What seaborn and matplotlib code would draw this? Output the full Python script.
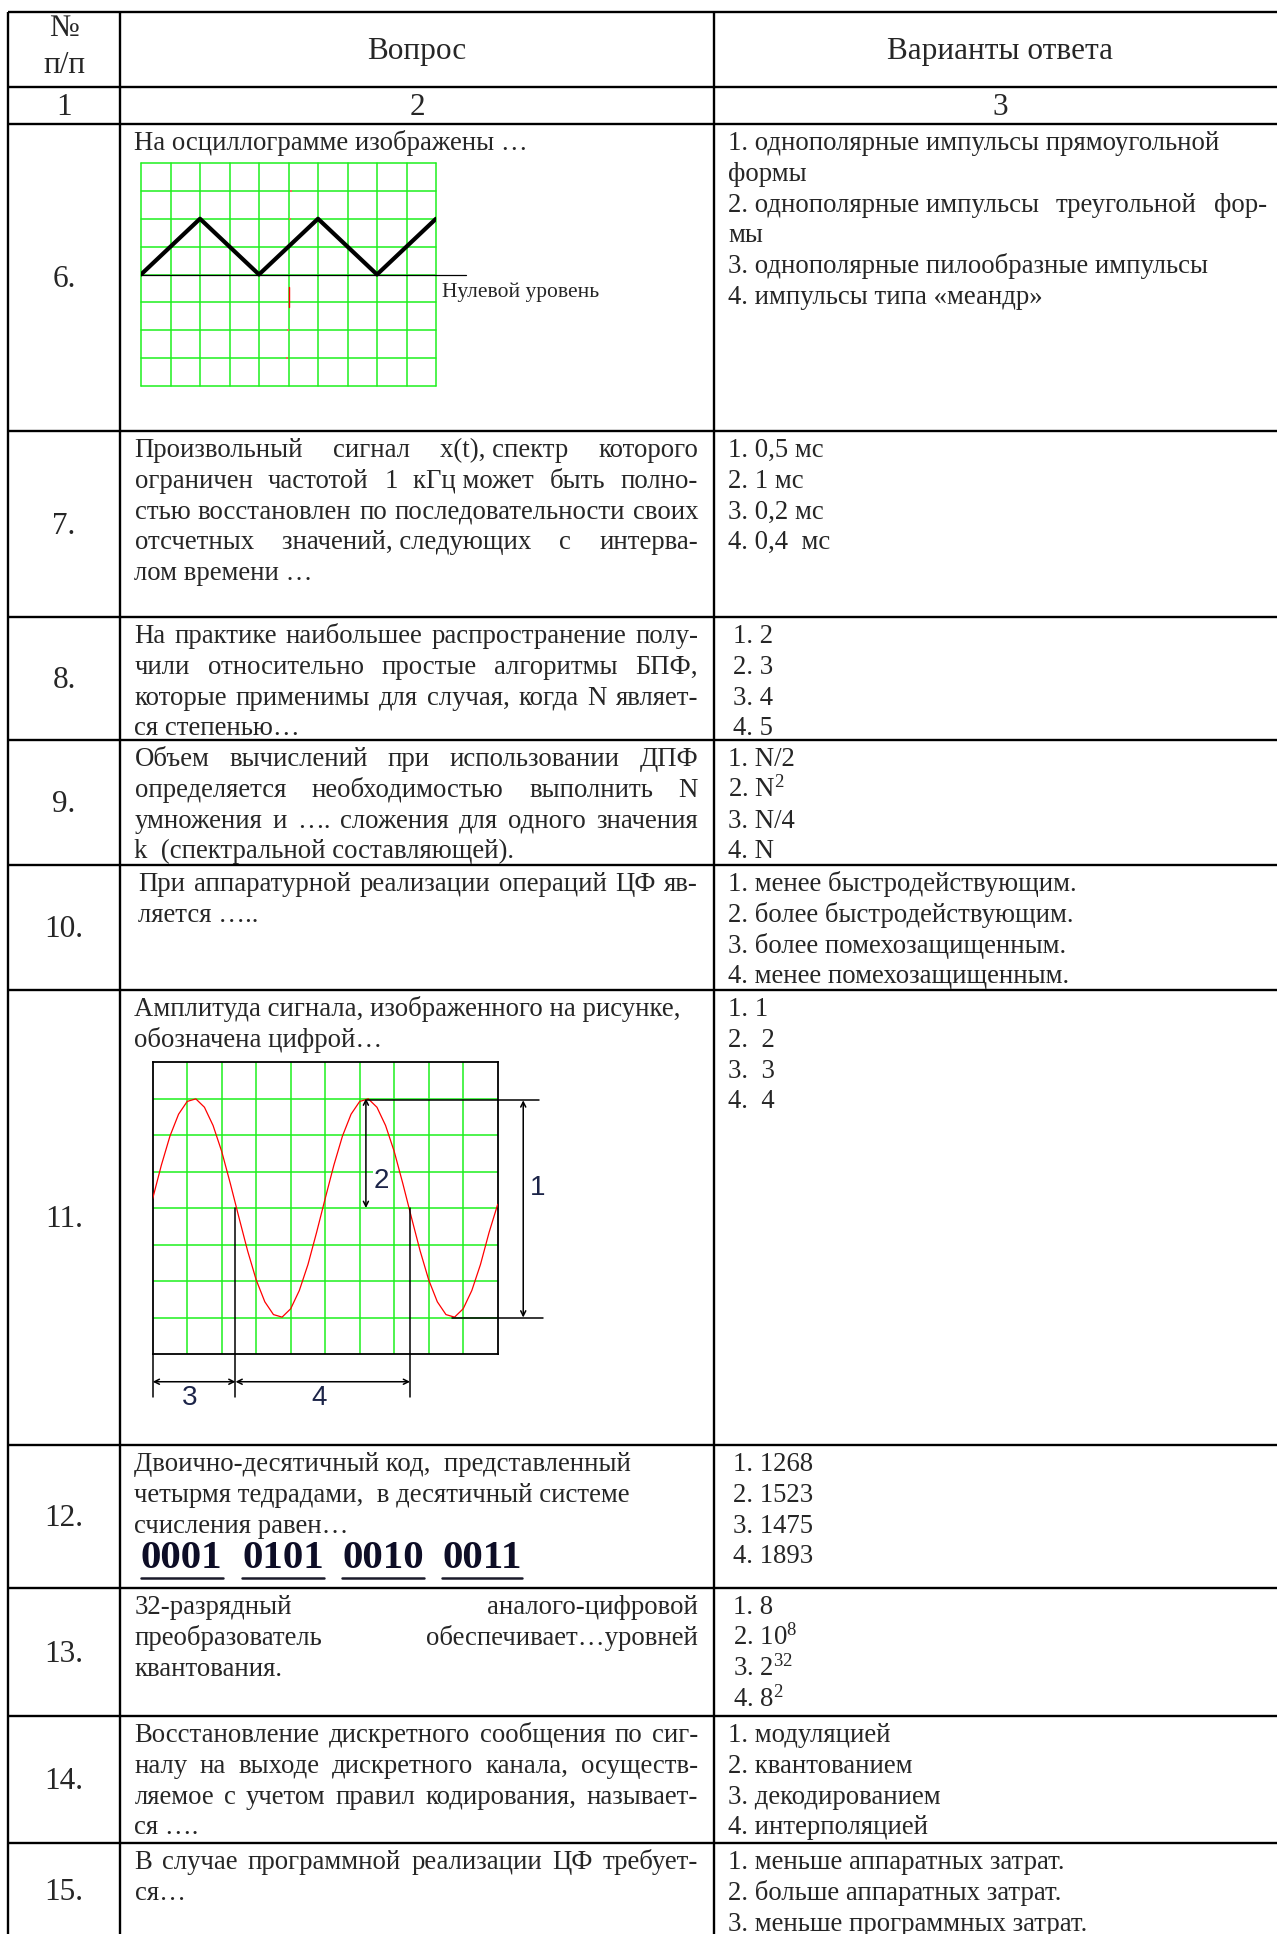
import matplotlib
matplotlib.use("Agg")
import matplotlib.pyplot as plt
import seaborn as sns

sns.set_style("white")
plt.rcParams['font.family'] = ['Liberation Serif', 'DejaVu Serif']
plt.rcParams['mathtext.fontset'] = 'custom'
plt.rcParams['mathtext.rm'] = 'Liberation Serif'
plt.rcParams['mathtext.it'] = 'Liberation Serif:italic'

NB = "\u00a0"  # fixed (non-stretching) space

# ---- table content ----
col_numbers = ["1", "2", "3"]
row_labels = ["6.", "7.", "8.", "9.", "10.", "11.", "12.", "13.", "14.", "15."]

questions = [
    ["На осциллограмме изображены …"],
    ["Произвольный сигнал x(t)," + NB + "спектр которого",
     "ограничен частотой 1 кГц" + NB + "может быть полно-",
     "стью восстановлен по последовательности своих",
     "отсчетных значений," + NB + "следующих с интерва-",
     "лом времени …"],
    ["На практике наибольшее распространение полу-",
     "чили относительно простые алгоритмы БПФ,",
     "которые применимы для случая, когда N являет-",
     "ся степенью…"],
    ["Объем вычислений при использовании ДПФ",
     "определяется необходимостью выполнить N",
     "умножения и …. сложения для одного значения",
     "k  (спектральной составляющей)."],
    ["При аппаратурной реализации операций ЦФ яв-",
     "ляется ….."],
    ["Амплитуда сигнала, изображенного на рисунке,",
     "обозначена цифрой…"],
    ["Двоично-десятичный код,  представленный",
     "четырмя тедрадами,  в десятичный системе",
     "счисления равен…"],
    ["32-разрядный аналого-цифровой",
     "преобразователь обеспечивает…уровней",
     "квантования."],
    ["Восстановление дискретного сообщения по сиг-",
     "налу на выходе дискретного канала, осуществ-",
     "ляемое с учетом правил кодирования, называет-",
     "ся …."],
    ["В случае программной реализации ЦФ требует-",
     "ся…"],
]
# how many leading lines of each question are justified
q_justified = [0, 4, 3, 3, 1, 0, 0, 2, 3, 1]

answers = [
    ["1. однополярные импульсы прямоугольной",
     "формы",
     "2." + NB + "однополярные" + NB + "импульсы  треугольной  фор-",
     "мы",
     "3. однополярные пилообразные импульсы",
     "4. импульсы типа «меандр»"],
    ["1. 0,5 мс", "2. 1 мс", "3. 0,2 мс", "4. 0,4  мс"],
    ["1. 2", "2. 3", "3. 4", "4. 5"],
    ["1. N/2", "2. N$^{2}$", "3. N/4", "4. N"],
    ["1. менее быстродействующим.", "2. более быстродействующим.",
     "3. более помехозащищенным.", "4. менее помехозащищенным."],
    ["1. 1", "2.  2", "3.  3", "4.  4"],
    ["1. 1268", "2. 1523", "3. 1475", "4. 1893"],
    ["1. 8", "2. 10$^{8}$", "3. 2$^{32}$", "4. 8$^{2}$"],
    ["1. модуляцией", "2. квантованием", "3. декодированием", "4. интерполяцией"],
    ["1. меньше аппаратных затрат.", "2. больше аппаратных затрат.",
     "3. меньше программных затрат."],
]
a_justified = {(0, 2)}

bcd_groups = ["0001", "0101", "0010", "0011"]
zero_label = "Нулевой уровень"

# triangle wave (grid units)
tri_x = [0, 2, 4, 6, 8, 10]
tri_y = [4, 6, 4, 6, 4, 6]
red_mark_x = [5.08, 5.06, 5.03, 4.99, 4.96]
red_mark_y = [7.0, 6.0, 5.0, 2.0, 1.0]

# sine wave (10 x 8 cells)
sine_x = [0, 0.25, 0.5, 0.75, 1, 1.25, 1.5, 1.75, 2, 2.25, 2.5, 2.75, 3, 3.25,
          3.5, 3.75, 4, 4.25, 4.5, 4.75, 5, 5.25, 5.5, 5.75, 6, 6.25, 6.5,
          6.75, 7, 7.25, 7.5, 7.75, 8, 8.25, 8.5, 8.75, 9, 9.25, 9.5, 9.75, 10]
sine_y = [4.26, 5.17, 5.97, 6.57, 6.92, 6.99, 6.76, 6.26, 5.55, 4.67, 3.74,
          2.83, 2.03, 1.43, 1.08, 1.01, 1.24, 1.74, 2.45, 3.33,
          4.26, 5.17, 5.97, 6.57, 6.92, 6.99, 6.76, 6.26, 5.55, 4.67, 3.74,
          2.83, 2.03, 1.43, 1.08, 1.01, 1.24, 1.74, 2.45, 3.33, 4.1]
sine_marks = ["1", "2", "3", "4"]

# ---- layout (pixels) ----
W, H = 1277, 1934
FS = 19.3
FS_HEAD = 22.5
x_left, x_c1, x_c2 = 8, 120, 714
h_lines = [12, 87, 124, 431, 617, 740, 865, 990, 1445, 1588, 1716, 1843]
row_tops = h_lines[2:]
row_bottoms = h_lines[3:] + [1937]
step = 30.8
q_x = [134.5, 134.5, 134.5, 134.5, 138, 134.5, 134.5, 134.5, 134.5, 134.5]
a_x = [728, 728, 733, 728, 728, 728, 733, 733, 728, 728]
q_right, a_right = 698, 1267

fig = plt.figure(figsize=(W / 100, H / 100), dpi=100)
ax = fig.add_axes([0, 0, 1, 1])
ax.set_xlim(0, W)
ax.set_ylim(H, 0)
ax.axis('off')
renderer = fig.canvas.get_renderer()

for y in h_lines:
    ax.plot([x_left, W], [y, y], color='black', lw=1.7, solid_capstyle='butt')
for x in (x_left, x_c1, x_c2):
    ax.plot([x, x], [h_lines[0], H], color='black', lw=1.7, solid_capstyle='butt')


def text_width(s, **kw):
    t = ax.text(0, 0, s, **kw)
    w = t.get_window_extent(renderer).width
    t.remove()
    return w


def draw_line(x0, y, s, x1=None, **kw):
    kw.setdefault('fontsize', FS)
    if x1 is None:
        ax.text(x0, y, s.replace(NB, " "), ha='left', va='baseline', **kw)
        return
    # justified: every plain space gets the same extra width
    tokens = [w.replace(NB, " ") for w in s.split(" ")]
    sw = text_width("x x", **kw) - text_width("xx", **kw)
    widths = [text_width(w, **kw) if w else 0.0 for w in tokens]
    n_sp = len(tokens) - 1
    extra = (x1 - x0 - sum(widths) - n_sp * sw) / max(n_sp, 1)
    x = x0
    for w, tw in zip(tokens, widths):
        if w:
            ax.text(x, y, w, ha='left', va='baseline', **kw)
        x += tw + sw + extra


# header
ax.text(64, 36.5, "№", ha='center', va='baseline', fontsize=FS_HEAD)
ax.text(64, 73, "п/п", ha='center', va='baseline', fontsize=FS_HEAD)
ax.text(417, 58.5, "Вопрос", ha='center', va='baseline', fontsize=FS_HEAD)
ax.text(1000, 58.5, "Варианты ответа", ha='center', va='baseline', fontsize=FS_HEAD)
for x, s in zip((64, 417, 1000), col_numbers):
    ax.text(x, 115, s, ha='center', va='baseline', fontsize=FS_HEAD)

for i, (q, a) in enumerate(zip(questions, answers)):
    base = row_tops[i] + 26
    for j, s in enumerate(q):
        draw_line(q_x[i], base + j * step, s, q_right if j < q_justified[i] else None)
    for j, s in enumerate(a):
        draw_line(a_x[i], base + j * step, s, a_right if (i, j) in a_justified else None)
    ax.text(64, (row_tops[i] + row_bottoms[i]) / 2 + 9.5, row_labels[i],
            ha='center', va='baseline', fontsize=FS_HEAD)

# BCD code with underlines
for x, g in zip((141, 242, 342, 442), bcd_groups):
    t = ax.text(x, 1568, g, ha='left', va='baseline', fontsize=29.5,
                fontweight='bold', color='#0d0d26')
    w = t.get_window_extent(renderer).width
    ax.plot([x, x + w], [1578, 1578], color='#1a1a2a', lw=1.8)

ax.text(442, 297, zero_label, ha='left', va='baseline', fontsize=15.5)

# ---- triangle oscillogram ----
green = '#1ef01e'
tax = fig.add_axes([141 / W, 1 - 386 / H, (436 - 141) / W, (386 - 163) / H])
tax.set_xlim(0, 10)
tax.set_ylim(0, 8)
tax.axis('off')
for k in range(11):
    tax.plot([k, k], [0, 8], color=green, lw=1.1, clip_on=False, zorder=1)
for k in range(9):
    tax.plot([0, 10], [k, k], color=green, lw=1.1, clip_on=False, zorder=1)
tax.plot([0, 11], [4, 4], color='black', lw=0.9, clip_on=False, zorder=2)
tax.plot([5.0, 5.0], [2.85, 3.55], color='red', lw=1.0, zorder=2)
tax.scatter(red_mark_x, red_mark_y, s=0.8, color='#ff6060', marker='s',
            linewidths=0, zorder=2)
sns.lineplot(x=tri_x, y=tri_y, ax=tax, color='black', lw=3.0, zorder=3)

# ---- sine oscillogram ----
sax = fig.add_axes([152.7 / W, 1 - 1354 / H, 345 / W, 292 / H])
sax.set_xlim(0, 10)
sax.set_ylim(0, 8)
sax.set_xticks([])
sax.set_yticks([])
for sp in sax.spines.values():
    sp.set_visible(True)
    sp.set_color('black')
    sp.set_linewidth(1.3)
for k in range(1, 10):
    sax.plot([k, k], [0, 8], color=green, lw=1.1, zorder=1)
for k in range(1, 8):
    sax.plot([0, 10], [k, k], color=green, lw=1.1, zorder=1)
sns.lineplot(x=sine_x, y=sine_y, ax=sax, color='red', lw=0.9, zorder=3)

blk = dict(color='black', lw=1.1, clip_on=False, zorder=4)
sax.plot([6.2, 11.2], [6.95, 6.95], **blk)
sax.plot([8.67, 11.3], [1.0, 1.0], **blk)
sax.plot([0, 0], [0, -1.17], **blk)
sax.plot([2.40, 2.40], [4.0, -1.17], **blk)
sax.plot([7.46, 7.46], [4.0, -1.17], **blk)
arrow = dict(arrowstyle='<->', lw=1.1, color='black', shrinkA=0, shrinkB=0,
             mutation_scale=9)
sax.annotate('', xy=(10.74, 6.95), xytext=(10.74, 1.0), arrowprops=arrow,
             annotation_clip=False)
sax.annotate('', xy=(6.18, 7.0), xytext=(6.18, 4.0), arrowprops=arrow,
             annotation_clip=False)
sax.annotate('', xy=(0, -0.76), xytext=(2.40, -0.76), arrowprops=arrow,
             annotation_clip=False)
sax.annotate('', xy=(2.40, -0.76), xytext=(7.46, -0.76), arrowprops=arrow,
             annotation_clip=False)
lab = dict(fontsize=20, color='#1c2448', family=['Liberation Sans', 'DejaVu Sans'],
           ha='center', va='center', clip_on=False, zorder=5)
sax.text(11.15, 4.55, sine_marks[0], **lab)
sax.text(6.62, 4.75, sine_marks[1],
         bbox=dict(facecolor='white', edgecolor='none', pad=0.5), **lab)
sax.text(1.08, -1.21, sine_marks[2], **lab)
sax.text(4.83, -1.21, sine_marks[3], **lab)

fig.savefig("out.png", dpi=100)
